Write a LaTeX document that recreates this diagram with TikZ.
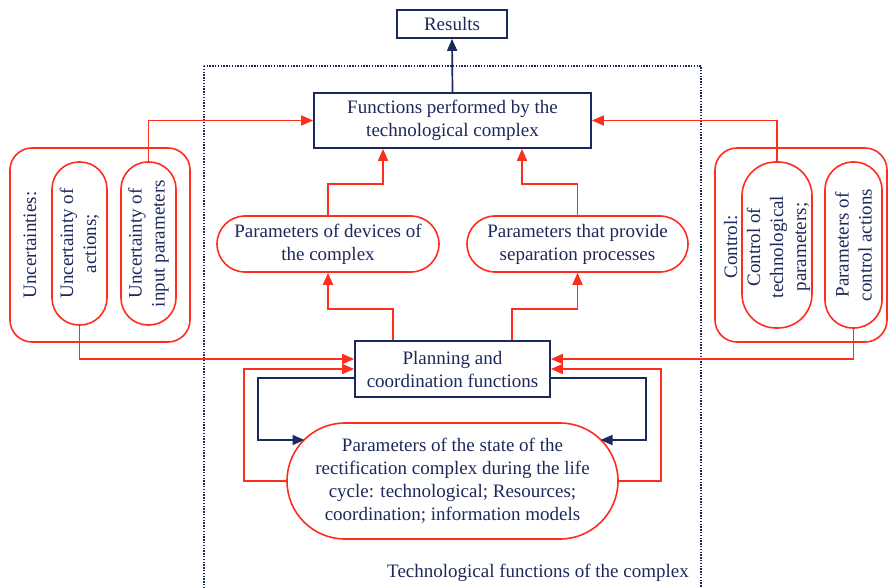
\documentclass[tikz,border=0pt]{standalone}
\usepackage{fontspec}
\setmainfont{Liberation Serif}
\usetikzlibrary{arrows.meta,calc}
\definecolor{rd}{RGB}{255,45,30}
\definecolor{nv}{RGB}{27,42,94}
\definecolor{tx}{RGB}{30,40,90}
\begin{document}
\begin{tikzpicture}[x=1pt,y=-1pt,
 every node/.style={font=\fontsize{19}{23}\selectfont, text=tx, align=center, inner sep=0pt},
 nbox/.style={draw=nv, line width=1.7pt, fill=white},
 rbox/.style={draw=rd, line width=1.6pt},
 ra/.style={draw=rd, line width=1.6pt, -{Triangle[length=12pt,width=10pt]}},
 na/.style={draw=nv, line width=1.7pt, -{Triangle[length=12pt,width=10pt]}},
 frame/.style={draw=nv, line width=1.4pt, dash pattern=on 1.4pt off 1.4pt}]
\useasboundingbox (0,0) rectangle (889,588);

% dotted frame
\draw[frame] (204,66) rectangle (701,600);
\node[anchor=base] (lab) at (538,577) {Technological functions of the complex};

% central nodes
\node[nbox, minimum width=110pt, minimum height=28pt] (res) at (452,24) {Results};
\node[nbox, minimum width=277pt, minimum height=55pt] (fn) at (452.5,120.5) {Functions performed by the\\technological complex};
\node[rbox, rounded corners=28pt, minimum width=222pt, minimum height=56pt] (dev) at (328,244) {Parameters of devices of\\the complex};
\node[rbox, rounded corners=28pt, minimum width=221pt, minimum height=56pt] (sep) at (577.5,244) {Parameters that provide\\separation processes};
\node[nbox, minimum width=195pt, minimum height=56pt] (pl) at (452.5,369) {Planning and\\coordination functions};
\node[rbox, rounded corners=58pt, minimum width=331pt, minimum height=116pt] (st) at (452.5,481) {Parameters of the state of the\\rectification complex during the life\\cycle: technological; Resources;\\coordination; information models};

% left group
\node[rbox, rounded corners=22pt, minimum width=180pt, minimum height=194pt] (unc) at (100,245) {};
\node[rotate=90] (unct) at (30,245) {Uncertainties:};
\node[rbox, rotate=90, rounded corners=27pt, minimum width=163pt, minimum height=55pt] (ua) at (79.5,243.5) {Uncertainty of\\actions;};
\node[rbox, rotate=90, rounded corners=27pt, minimum width=163pt, minimum height=55pt] (ui) at (148.5,243.5) {Uncertainty of\\input parameters};

% right group
\node[rbox, rounded corners=22pt, minimum width=172pt, minimum height=194pt] (ctl) at (801,245) {};
\node[rbox, rotate=90, rounded corners=34pt, minimum width=166pt, minimum height=70pt] (ct) at (777,245) {};
\node[rotate=90] (ctt) at (767,247) {Control:\\Control of\\technological\\parameters;};
\node[rbox, rotate=90, rounded corners=28pt, minimum width=166pt, minimum height=57pt] (ca) at (853.5,245) {Parameters of\\control actions};

% connectors
\draw[na] (fn.north) -- (res.south);
\draw[ra] (ui.east) |- (fn.west);
\draw[ra] (ct.east) |- (fn.east);
\draw[ra] (dev.north) -- ++(0,-31) -| ([xshift=-69.5pt]fn.south);
\draw[ra] (sep.north) -- ++(0,-31) -| ([xshift=69.5pt]fn.south);
\draw[ra] ([xshift=-59.5pt]pl.north) -- ++(0,-31) -| (dev.south);
\draw[ra] ([xshift=59.5pt]pl.north) -- ++(0,-31) -| (sep.south);
\draw[na] ([yshift=-9pt]pl.west) -| ++(-96,62) -- ([xshift=-148pt,yshift=41pt]st.center);
\draw[na] ([yshift=-9pt]pl.east) -| ++(95,62) -- ([xshift=148pt,yshift=41pt]st.center);
\draw[ra] (st.west) -- ++(-42,0) |- (pl.west);
\draw[ra] (st.east) -- ++(42,0) |- (pl.east);
\draw[ra] (ua.west) |- ([yshift=10pt]pl.west);
\draw[ra] (ca.west) |- ([yshift=10pt]pl.east);
\end{tikzpicture}
\end{document}
